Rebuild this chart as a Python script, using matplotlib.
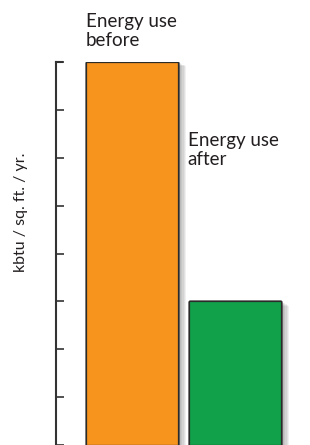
import matplotlib
matplotlib.use("Agg")
import matplotlib.pyplot as plt
import matplotlib.patheffects as pe

# data
categories = ["Energy use\nbefore", "Energy use\nafter"]
values = [8, 3]
colors = ["#F7941E", "#11A14B"]
tick_values = [0, 1, 2, 3, 4, 5, 6, 7, 8]
ylabel = "kbtu / sq. ft. / yr."

plt.rcParams["font.family"] = ["Lato", "DejaVu Sans"]
text_color = "#231F20"

fig = plt.figure(figsize=(3.1, 4.45), dpi=100)
ax = fig.add_axes([56 / 310, 0, 244 / 310, 383 / 445])

# soft drop shadow built from a few faint offset copies
shadow = [pe.withSimplePatchShadow(offset=(dx, -dx / 2), shadow_rgbFace="#000000", alpha=0.06)
          for dx in (1, 2, 3, 4, 5, 6)]
shadow.append(pe.Normal())
bars = ax.bar(range(len(values)), values, width=0.893, color=colors,
              edgecolor="#2b2b2b", linewidth=0.9, path_effects=shadow, zorder=3)

ax.set_xlim(-0.738, 1.631)
ax.set_ylim(0, 8)
ax.set_yticks(tick_values)
ax.set_yticklabels([])
ax.set_xticks([])
ax.tick_params(axis="y", direction="in", length=6, width=1.2, color="#333333")

for side in ["top", "right", "bottom"]:
    ax.spines[side].set_visible(False)
ax.spines["left"].set_linewidth(1.5)
ax.spines["left"].set_color("#333333")
# small cap at the top of the axis
ax.plot([0, 6 / 244], [1, 1], transform=ax.transAxes, color="#333333",
        linewidth=1.5, clip_on=False)

# labels: first sits on its bar, second floats beside the first bar
ax.annotate(categories[0], xy=(0 - 0.447, values[0]), xytext=(0, 9),
            textcoords="offset points", ha="left", va="bottom",
            fontsize=13.5, color=text_color, linespacing=1.15)
ax.text(1 - 0.46, 5.78, categories[1], ha="left", va="bottom",
        fontsize=13.5, color=text_color, linespacing=1.15)

fig.text(21 / 310, 1 - 212 / 445, ylabel, rotation=90, ha="center", va="center",
         fontsize=11.5, color=text_color)

fig.savefig("out.png", dpi=100)
